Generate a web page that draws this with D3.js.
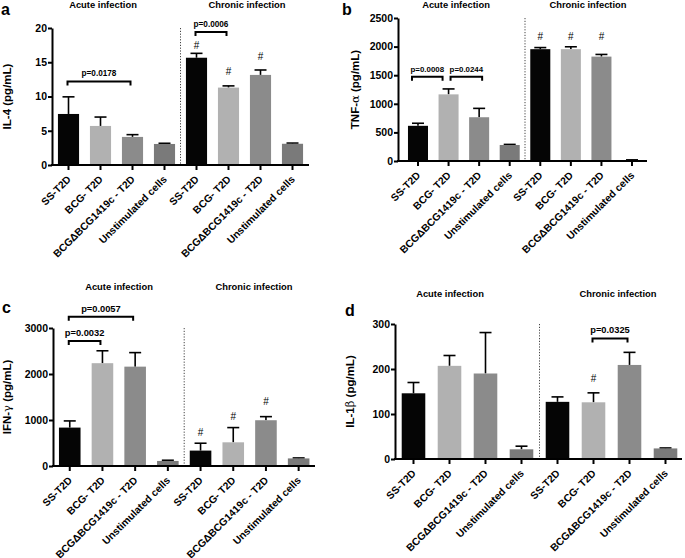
<!DOCTYPE html>
<html><head><meta charset="utf-8">
<script src="https://cdn.jsdelivr.net/npm/d3@7"></script>
<style>body{margin:0;background:#fff;} svg text{font-family:"Liberation Sans",Arial,Helvetica,sans-serif;}</style>
</head><body><svg id="chart" width="685" height="558"></svg>
<script>
// ---------- data ----------
const categories = ["SS-T2D", "BCG- T2D", "BCG\u0394BCG1419c - T2D", "Unstimulated cells"];
const groups = ["Acute infection", "Chronic infection"];

// order: acute (4 categories), then chronic (4 categories)
const il4Mean  = [7.45, 5.7, 4.1, 3.07, 15.66, 11.3, 13.15, 3.1];
const il4Sem   = [2.5, 1.3, 0.33, 0.1, 0.64, 0.25, 0.72, 0.1];
const il4Ticks = [0, 5, 10, 15, 20];

const tnfMean  = [615, 1165, 765, 280, 1955, 1955, 1825, 15];
const tnfSem   = [45, 95, 155, 10, 28, 42, 38, 5];
const tnfTicks = [0, 500, 1000, 1500, 2000, 2500];

const ifnMean  = [835, 2235, 2160, 110, 335, 515, 995, 165];
const ifnSem   = [145, 270, 305, 15, 160, 320, 78, 10];
const ifnTicks = [0, 1000, 2000, 3000];

const il1Mean  = [146, 207, 190, 21.5, 127, 126, 209, 23.5];
const il1Sem   = [24, 23, 91, 7, 11, 21, 28, 1];
const il1Ticks = [0, 100, 200, 300];

// significance brackets: bar indices, level (data units), label
const bracketsA = [{from: 0, to: 2, level: 12.2, label: "p=0.0178"}, {from: 4, to: 5, level: 19.4, label: "p=0.0006"}];
const bracketsB = [{from: 0, to: 1, level: 1474, label: "p=0.0008"}, {from: 1, to: 2, level: 1474, label: "p=0.0244"}];
const bracketsC = [{from: 0, to: 2, level: 3246, label: "p=0.0057"}, {from: 0, to: 1, level: 2717, label: "p=0.0032"}];
const bracketsD = [{from: 5, to: 6, level: 268, label: "p=0.0325"}];

// "#" marks: bar index, level (data units)
const hashA = [{bar: 4, level: 17.5}, {bar: 5, level: 13.6}, {bar: 6, level: 15.9}];
const hashB = [{bar: 4, level: 2168}, {bar: 5, level: 2168}, {bar: 6, level: 2168}];
const hashC = [{bar: 4, level: 739}, {bar: 5, level: 1072}, {bar: 6, level: 1413}];
const hashD = [{bar: 5, level: 178}];

// ---------- drawing ----------
const colors = ["#050505", "#b1b1b1", "#8b8b8b", "#7a7a7a"];
const svg = d3.select("#chart");
const FONT = '"Liberation Sans",Arial,Helvetica,sans-serif';

function panel(cfg) {
  const g = svg.append("g");
  const n = cfg.mean.length;
  const x = d3.scaleBand().domain(d3.range(n)).range([cfg.x0, cfg.x1])
    .paddingInner(cfg.pad).paddingOuter(cfg.pad / 2);
  const y = d3.scaleLinear().domain([0, cfg.ticks[cfg.ticks.length - 1]]).range([cfg.yBottom, cfg.yTop]);
  const cx = i => x(i) + x.bandwidth() / 2;

  // dotted separator
  const sepX = cfg.x0 + (cfg.x1 - cfg.x0) / 2;
  g.append("line").attr("x1", sepX).attr("x2", sepX).attr("y1", y.range()[1]).attr("y2", y(0))
    .attr("stroke", "#444").attr("stroke-width", 1).attr("stroke-dasharray", "1.2,1.6");

  // error bars (upward only)
  const eb = g.append("g").attr("stroke", "#000").attr("stroke-width", 1.6);
  cfg.mean.forEach((m, i) => {
    const top = y(m + cfg.sem[i]);
    eb.append("line").attr("x1", cx(i)).attr("x2", cx(i)).attr("y1", y(m)).attr("y2", top);
    eb.append("line").attr("x1", cx(i) - 6).attr("x2", cx(i) + 6).attr("y1", top).attr("y2", top);
  });

  // bars
  g.selectAll("rect.bar").data(cfg.mean).join("rect").attr("class", "bar")
    .attr("x", (d, i) => x(i)).attr("y", d => y(d))
    .attr("width", x.bandwidth()).attr("height", d => y(0) - y(d))
    .attr("fill", (d, i) => colors[i % 4]);

  // y axis
  const ya = d3.axisLeft(y).tickValues(cfg.ticks).tickFormat(d3.format("d"))
    .tickSize(4).tickSizeOuter(0).tickPadding(1);
  const yg = g.append("g").attr("transform", `translate(${cfg.axisX},0)`).call(ya);
  yg.select(".domain").attr("stroke", "#000").attr("stroke-width", 2);
  yg.selectAll(".tick line").attr("stroke", "#000").attr("stroke-width", 2);
  yg.selectAll(".tick text").attr("font-family", FONT).attr("font-size", 10.5)
    .attr("font-weight", "bold").attr("fill", "#000");

  // x axis line and ticks
  g.append("line").attr("x1", cfg.axisX - 1).attr("x2", cfg.xEnd).attr("y1", y(0)).attr("y2", y(0))
    .attr("stroke", "#000").attr("stroke-width", 2);
  g.selectAll("line.xt").data(d3.range(n)).join("line").attr("class", "xt")
    .attr("x1", cx).attr("x2", cx).attr("y1", y(0)).attr("y2", y(0) + 5)
    .attr("stroke", "#000").attr("stroke-width", 2);
  const labels = categories.concat(categories);
  g.selectAll("text.xl").data(labels).join("text").attr("class", "xl")
    .attr("transform", (d, i) => `translate(${cx(i) + 3},${y(0) + 15}) rotate(-45)`)
    .attr("text-anchor", "end").attr("font-size", 10.3).attr("font-weight", "bold").text(d => d);

  // y label
  const yl = g.append("text")
    .attr("transform", `translate(${cfg.ylabX},${(y.range()[0] + y.range()[1]) / 2}) rotate(-90)`)
    .attr("text-anchor", "middle").attr("font-size", 11.5).attr("font-weight", "bold");
  cfg.ylab.forEach(p => yl.append("tspan").attr("font-weight", p.greek ? "normal" : "bold")
    .attr("font-family", p.greek ? '"DejaVu Serif",serif' : FONT).text(p.t));

  // group titles
  groups.forEach((t, k) => g.append("text").attr("x", cfg.titleX[k]).attr("y", cfg.titleY)
    .attr("text-anchor", "middle").attr("font-size", 9.4).attr("font-weight", "bold").text(t));

  // panel letter
  g.append("text").attr("x", cfg.letterX).attr("y", cfg.letterY).attr("font-size", 16)
    .attr("font-weight", "bold").text(cfg.letter);

  // brackets
  cfg.brackets.forEach((b, k) => {
    const sh = cfg.bShift ? cfg.bShift[k] : [0, 0];
    const yy = y(b.level), xa = cx(b.from) - 1 + sh[0], xb = cx(b.to) - 2 + sh[1];
    g.append("path").attr("d", `M${xa},${yy + 4}V${yy}H${xb}V${yy + 4}`)
      .attr("fill", "none").attr("stroke", "#000").attr("stroke-width", 2);
    g.append("text").attr("x", (xa + xb) / 2).attr("y", yy - 5).attr("text-anchor", "middle")
      .attr("font-size", cfg.pFont).attr("font-weight", "bold").text(b.label);
  });

  // hash marks
  cfg.hash.forEach(h => g.append("text").attr("x", cx(h.bar)).attr("y", y(h.level) + 3.5)
    .attr("text-anchor", "middle").attr("font-size", 10).text("#"));
}

panel({letter: "a", letterX: 1, letterY: 15, mean: il4Mean, sem: il4Sem, ticks: il4Ticks,
  x0: 52.5, x1: 308.5, pad: 0.34, axisX: 52, xEnd: 309, yTop: 28, yBottom: 165,
  ylabX: 11, ylab: [{t: "IL-4 (pg/mL)"}], titleX: [103, 247], titleY: 8,
  brackets: bracketsA, hash: hashA, pFont: 8.2});

panel({letter: "b", letterX: 342, letterY: 15, mean: tnfMean, sem: tnfSem, ticks: tnfTicks,
  x0: 402.7, x1: 647.3, pad: 0.345, axisX: 398, xEnd: 647, yTop: 18, yBottom: 161,
  ylabX: 359, ylab: [{t: "TNF-"}, {t: "\u03b1", greek: true}, {t: " (pg/mL)"}], titleX: [456, 588], titleY: 8,
  brackets: bracketsB, hash: hashB, pFont: 7.9, bShift: [[-5, -4], [3, 5]]});

panel({letter: "c", letterX: 2, letterY: 313, mean: ifnMean, sem: ifnSem, ticks: ifnTicks,
  x0: 53.4, x1: 315, pad: 0.34, axisX: 53, xEnd: 315, yTop: 328, yBottom: 466,
  ylabX: 11, ylab: [{t: "IFN-"}, {t: "\u03b3", greek: true}, {t: " (pg/mL)"}], titleX: [119, 254], titleY: 290,
  brackets: bracketsC, hash: hashC, pFont: 9.3});

panel({letter: "d", letterX: 345, letterY: 316, mean: il1Mean, sem: il1Sem, ticks: il1Ticks,
  x0: 395.5, x1: 683.5, pad: 0.345, axisX: 395, xEnd: 682, yTop: 324, yBottom: 459,
  ylabX: 354, ylab: [{t: "IL-1"}, {t: "\u03b2", greek: true}, {t: " (pg/mL)"}], titleX: [450, 618], titleY: 297,
  brackets: bracketsD, hash: hashD, pFont: 9.3});
</script></body></html>
